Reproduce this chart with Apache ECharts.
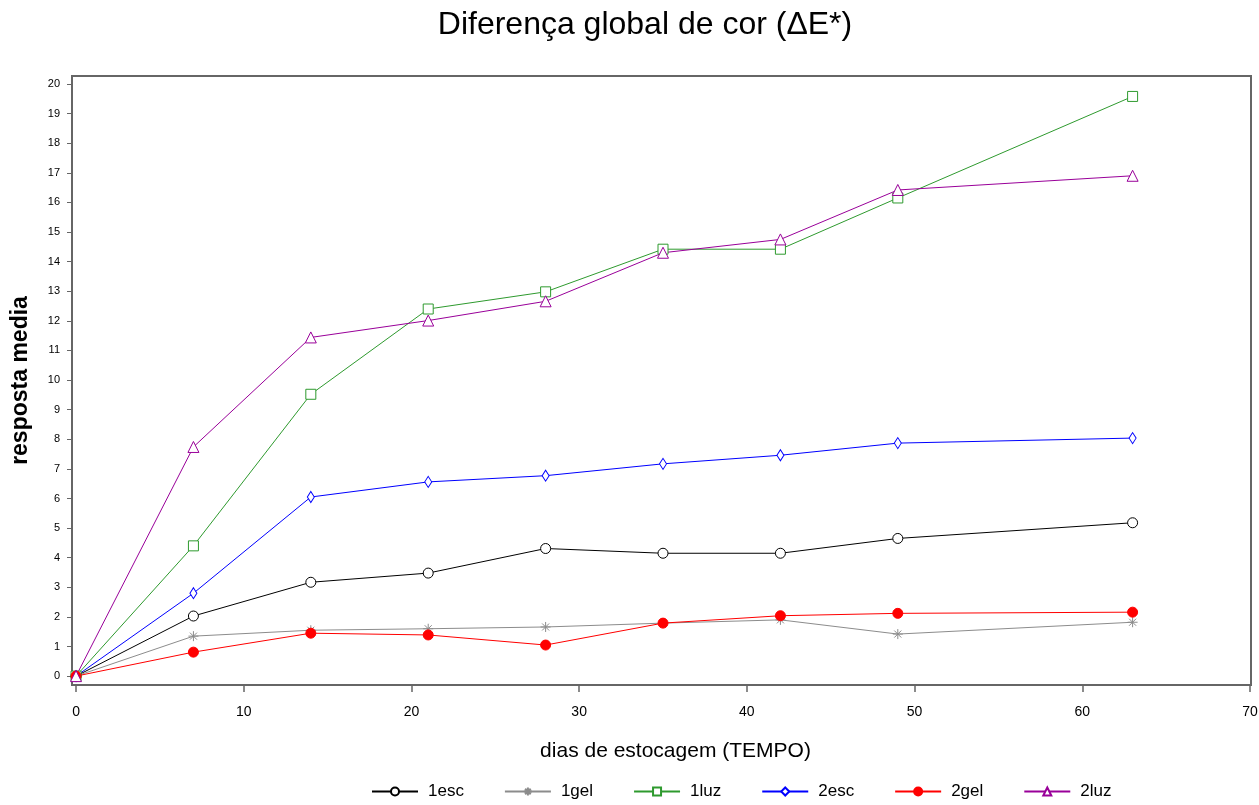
<!DOCTYPE html>
<html><head><meta charset="utf-8">
<script src="https://cdn.jsdelivr.net/npm/echarts@6/dist/echarts.min.js"></script>
<style>html,body{margin:0;padding:0;background:#fff}#c{width:1259px;height:805px}</style>
</head><body><div id="c"></div>
<script>
const days = [0, 7, 14, 21, 28, 35, 42, 49, 63];
const esc1 = [0, 2.03, 3.17, 3.48, 4.31, 4.15, 4.15, 4.65, 5.18];
const gel1 = [0, 1.35, 1.55, 1.60, 1.66, 1.79, 1.90, 1.42, 1.82];
const luz1 = [0, 4.40, 9.52, 12.40, 12.98, 14.42, 14.42, 16.15, 19.58];
const esc2 = [0, 2.80, 6.05, 6.56, 6.77, 7.17, 7.46, 7.87, 8.04];
const gel2 = [0, 0.81, 1.45, 1.39, 1.05, 1.79, 2.04, 2.12, 2.16];
const luz2 = [0, 7.74, 11.44, 12.01, 12.66, 14.30, 14.75, 16.42, 16.90];
const xTicks = [0, 10, 20, 30, 40, 50, 60, 70];
const yTicks = [0,1,2,3,4,5,6,7,8,9,10,11,12,13,14,15,16,17,18,19,20];

const pair = arr => days.map((d, i) => [d, arr[i]]);
const star = 'path://M0,-5L0,5M-5,0L5,0M-3.5,-3.5L3.5,3.5M-3.5,3.5L3.5,-3.5';
const font = 'Liberation Sans, Arial, sans-serif';
const frame = '#666666';

function s(name, data, color, symbol, size, fill) {
  return {
    name, type: 'line', data: pair(data), symbol, symbolSize: size,
    lineStyle: { color, width: 1 },
    itemStyle: { color: fill, borderColor: color, borderWidth: 1 },
    emphasis: { disabled: true }
  };
}

const chart = echarts.init(document.getElementById('c'));
chart.setOption({
  animation: false,
  backgroundColor: '#fff',
  textStyle: { fontFamily: font },
  title: {
    text: 'Diferença global de cor (ΔE*)', left: 640, textAlign: 'center', top: 4,
    textStyle: { fontFamily: font, fontSize: 32, fontWeight: 'normal', color: '#000' }
  },
  grid: { left: 72, right: 8, top: 76, bottom: 120, show: true, borderColor: frame, borderWidth: 2,
          outerBoundsMode: 'none', containLabel: false },
  xAxis: {
    type: 'value', min: -0.24, max: 70.06,
    name: 'dias de estocagem (TEMPO)', nameLocation: 'middle', nameGap: 56,
    nameTextStyle: { fontFamily: font, fontSize: 21, color: '#000', padding: [0, 0, 0, 28] },
    axisLine: { show: true, onZero: false, lineStyle: { color: frame, width: 2 } },
    axisTick: { show: true, inside: false, length: 7, customValues: xTicks, lineStyle: { color: frame, width: 1.5 } },
    axisLabel: { customValues: xTicks, fontSize: 14, color: '#000', margin: 20, fontFamily: font },
    splitLine: { show: false }
  },
  yAxis: {
    type: 'value', min: -0.30, max: 20.27,
    name: 'resposta media', nameLocation: 'middle', nameGap: 40,
    nameTextStyle: { fontFamily: font, fontSize: 23, fontWeight: 'bold', color: '#000' },
    axisLine: { show: true, onZero: false, lineStyle: { color: frame, width: 2 } },
    axisTick: { show: true, inside: false, length: 5, customValues: yTicks, lineStyle: { color: frame } },
    axisLabel: { customValues: yTicks, fontSize: 11, color: '#000', margin: 12, fontFamily: font },
    splitLine: { show: false }
  },
  legend: {
    bottom: 0, left: 366, itemWidth: 46, itemHeight: 10, itemGap: 40,
    textStyle: { fontFamily: font, fontSize: 17, color: '#000', width: 42, padding: [0, 0, 0, 5] },
    data: ['1esc', '1gel', '1luz', '2esc', '2gel', '2luz']
  },
  series: [
    s('1esc', esc1, '#000000', 'circle', 10, '#ffffff'),
    s('1gel', gel1, '#8c8c8c', star, 10, 'none'),
    s('1luz', luz1, '#2e9a2e', 'rect', 10, '#ffffff'),
    s('2esc', esc2, '#0000ff', 'diamond', [7, 11], '#ffffff'),
    s('2gel', gel2, '#ff0000', 'circle', 10, '#ff0000'),
    s('2luz', luz2, '#990099', 'triangle', 11, '#ffffff')
  ]
});
</script></body></html>
